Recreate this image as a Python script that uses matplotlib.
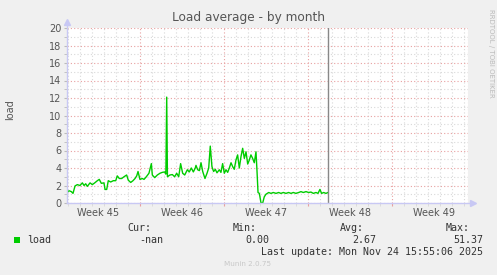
import matplotlib
matplotlib.use('Agg')
import matplotlib.pyplot as plt
from matplotlib.ticker import FixedLocator, MultipleLocator
import matplotlib.transforms as mtransforms
import numpy as np

# time in days since the left edge of the graph, load values
days = [0.0, 0.17, 0.36, 0.50, 0.67, 0.86, 1.08, 1.28, 1.42, 1.56, 1.69, 1.92,
        2.11, 2.31, 2.53, 2.69, 2.86, 3.08, 3.17, 3.31, 3.44, 3.64, 3.86, 4.06,
        4.19, 4.36, 4.56, 4.75, 4.97, 5.11, 5.31, 5.50, 5.67, 5.81, 5.92, 6.08,
        6.28, 6.42, 6.61, 6.83, 7.03, 7.11, 7.31, 7.53, 7.75, 7.94, 8.14, 8.24,
        8.31, 8.37, 8.58, 8.78, 8.97, 9.14, 9.31, 9.47, 9.64, 9.81, 10.03, 10.19,
        10.36, 10.53, 10.69, 10.75, 10.89, 11.03, 11.17, 11.31, 11.50, 11.67,
        11.81, 11.94, 12.08, 12.22, 12.36, 12.50, 12.69, 12.83, 12.97, 13.11,
        13.25, 13.39, 13.53, 13.67, 13.81, 13.94, 14.08, 14.22, 14.36, 14.50,
        14.64, 14.78, 14.92, 15.06, 15.19, 15.33, 15.47, 15.61, 15.75, 15.83,
        15.92, 16.03, 16.17, 16.31, 16.44, 16.58, 16.81, 17.00, 17.19, 17.42,
        17.64, 17.83, 18.03, 18.25, 18.47, 18.67, 18.86, 19.08, 19.31, 19.50,
        19.69, 19.92, 20.14, 20.33, 20.53, 20.75, 20.92, 21.08, 21.22, 21.39,
        21.58, 21.75]
load = [1.2, 1.4, 1.3, 1.1, 1.95, 2.1, 2.0, 2.3, 2.0, 2.2, 1.9, 2.3,
        2.1, 2.3, 2.55, 2.7, 2.25, 2.3, 1.55, 1.55, 2.55, 2.4, 2.55, 2.55,
        3.1, 2.8, 2.8, 3.0, 3.2, 2.6, 2.35, 2.55, 2.8, 3.1, 3.6, 2.7,
        2.8, 2.7, 3.0, 3.4, 4.5, 3.2, 2.9, 3.2, 3.4, 3.5, 3.55, 3.3,
        12.1, 3.0, 3.2, 3.25, 3.0, 3.4, 3.0, 4.5, 3.4, 3.2, 3.8, 3.55,
        4.0, 3.55, 4.0, 4.3, 3.8, 3.7, 4.6, 3.6, 2.8, 3.4,
        4.0, 6.5, 4.15, 3.6, 3.85, 3.45, 3.8, 3.5, 4.5, 3.4,
        3.8, 3.5, 4.0, 4.6, 4.15, 3.85, 4.9, 5.5, 4.0, 5.3,
        6.25, 5.1, 5.85, 4.45, 4.9, 5.5, 5.1, 4.6, 5.85, 3.8,
        1.2, 1.1, 0.0, 0.0, 0.7, 1.0, 1.2, 1.1, 1.2, 1.1,
        1.2, 1.1, 1.2, 1.1, 1.2, 1.1, 1.2, 1.1, 1.2, 1.3,
        1.2, 1.3, 1.2, 1.25, 1.1, 1.2, 1.1, 1.55, 1.1, 1.2,
        1.1, 1.2]

week_starts = [6.08, 13.08, 20.08, 27.08]
week_labels = ['Week 45', 'Week 46', 'Week 47', 'Week 48', 'Week 49']
week_label_pos = [2.58, 9.58, 16.58, 23.58, 30.58]
x_end = 33.42
now_line = 21.75

legend_heads = ['Cur:', 'Min:', 'Avg:', 'Max:']
legend_vals = ['-nan', '0.00', '2.67', '51.37']

W, H = 497, 275
fig = plt.figure(figsize=(W / 100, H / 100), dpi=100, facecolor='#f0f0f0')
ax = fig.add_axes([67 / W, (H - 203) / H, 401 / W, 175 / H])
ax.set_facecolor('white')

red = '#e8a0a0'
grey = '#d8d8d8'
dots = (0, (1, 2))

ax.set_xlim(0, x_end)
ax.set_ylim(0, 20)
ax.xaxis.set_major_locator(FixedLocator(week_starts))
ax.xaxis.set_minor_locator(FixedLocator(np.arange(0.08, x_end, 1.0)))
ax.yaxis.set_major_locator(MultipleLocator(2))
ax.yaxis.set_minor_locator(MultipleLocator(1))
ax.grid(which='major', color=red, ls=dots, lw=0.8)
ax.grid(which='minor', color=grey, ls=dots, lw=0.8)
ax.axvline(x_end, color=red, ls=dots, lw=0.8)
ax.set_xticklabels([])
ax.tick_params(axis='x', which='major', length=2, color=red)
ax.tick_params(axis='x', which='minor', length=2, color=grey)
ax.tick_params(axis='y', which='both', length=2, color='#bbbbbb',
               labelsize=7, labelcolor='#555555', pad=2)
for s in ax.spines.values():
    s.set_visible(False)

trans = mtransforms.blended_transform_factory(ax.transData, ax.transAxes)
for p, lab in zip(week_label_pos, week_labels):
    ax.text(p, -0.055, lab, transform=trans, ha='center', va='center',
            fontsize=7, color='#555555')

# data
ax.plot(days, load, color='#00cc00', lw=1.0, zorder=3)
ax.axvline(now_line, color='#888888', lw=1.0, zorder=4)

# axes with arrows
axc = '#c8c8f4'
ax.plot([0, 0], [0, 1.03], transform=ax.transAxes, color=axc, lw=1, clip_on=False, zorder=5)
ax.plot([0, 1.01], [0, 0], transform=ax.transAxes, color=axc, lw=1, clip_on=False, zorder=5)
ax.plot([0], [1.035], marker='^', ms=4, color=axc, transform=ax.transAxes, clip_on=False)
ax.plot([1.012], [0], marker='>', ms=4, color=axc, transform=ax.transAxes, clip_on=False)

def fx(px):
    return px / W

def fy(py):
    return 1 - py / H

fig.text(fx(248), fy(18), 'Load average - by month', ha='center', va='center',
         fontsize=8.7, color='#555555')
fig.text(fx(10), fy(110), 'load', rotation=90, ha='center', va='center',
         fontsize=7, color='#555555')
fig.text(fx(491), fy(53), 'RRDTOOL / TOBI OETIKER', rotation=270, ha='center',
         va='center', fontsize=5, color='#bbbbbb')

mono = 'DejaVu Sans Mono'
txt = '#333333'
for xr, h in zip([151, 257, 364, 470], legend_heads):
    fig.text(fx(xr), fy(228), h, ha='right', va='center', family=mono, fontsize=7.2, color=txt)
for xr, v in zip([163, 269, 376, 483], legend_vals):
    fig.text(fx(xr), fy(240), v, ha='right', va='center', family=mono, fontsize=7.2, color=txt)
fig.patches.append(plt.Rectangle((fx(14), fy(243)), 6 / W, 6 / H, transform=fig.transFigure,
                                 facecolor='#00cc00', edgecolor='none'))
fig.text(fx(27), fy(240), 'load', ha='left', va='center', family=mono, fontsize=7.2, color=txt)
fig.text(fx(483), fy(252), 'Last update: Mon Nov 24 15:55:06 2025', ha='right', va='center',
         family=mono, fontsize=7.2, color=txt)
fig.text(fx(248), fy(264), 'Munin 2.0.75', ha='center', va='center', fontsize=5.2, color='#c8c8c8')

fig.savefig('out.png', dpi=100, facecolor=fig.get_facecolor())
